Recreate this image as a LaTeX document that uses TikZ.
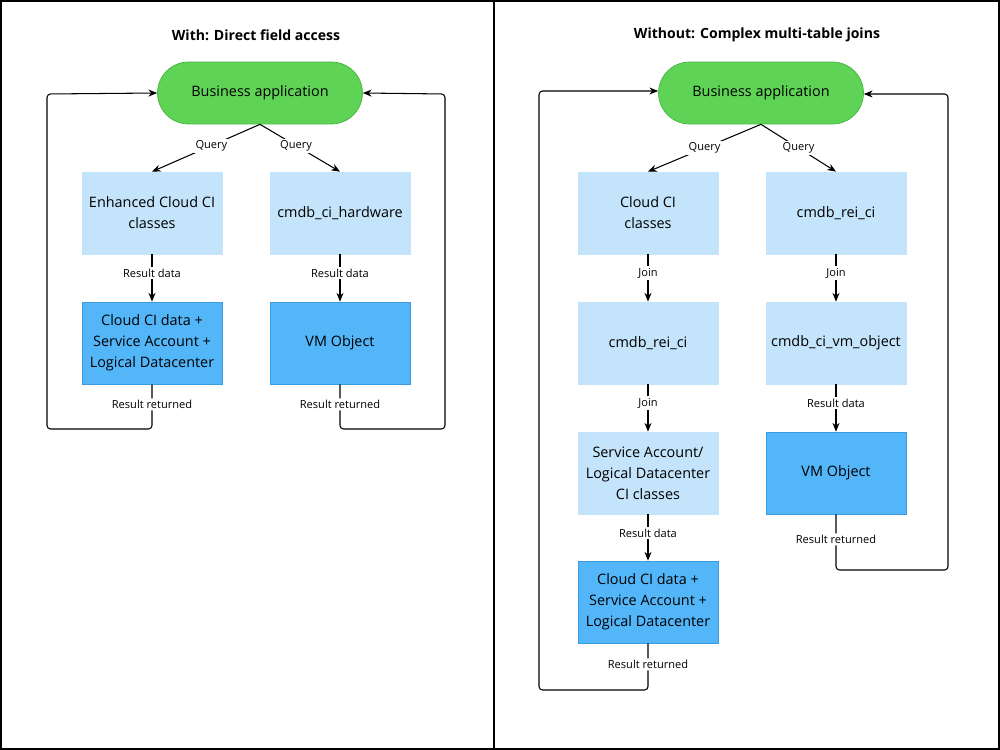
\documentclass[tikz,border=0pt]{standalone}
\usepackage{fontspec}
\setmainfont{Open Sans}
\usetikzlibrary{arrows.meta}
\begin{document}
\begin{tikzpicture}[x=0.02cm,y=-0.02cm,
  lb/.style={draw=none,fill=none,font=\fontsize{8}{10}\selectfont,align=center},
  light/.style={fill=lb1,draw=lb1,minimum width=2.8cm,minimum height=1.64cm,align=center,font=\fontsize{8.2}{12}\selectfont,inner sep=0},
  dark/.style={fill=db1,draw=db2,minimum width=2.8cm,minimum height=1.64cm,align=center,font=\fontsize{8.2}{12}\selectfont,inner sep=0},
  pill/.style={fill=gr1,draw=gr2,rounded corners=0.62cm,minimum width=4.1cm,minimum height=1.24cm,font=\fontsize{8.2}{10}\selectfont},
  sm/.style={fill=white,inner sep=1pt,font=\fontsize{6.3}{8}\selectfont},
  arr/.style={-{Stealth[length=5pt,width=4pt]},line width=0.6pt},
  ln/.style={line width=0.6pt},
  ttl/.style={font=\bfseries\fontsize{8}{10}\selectfont}]
\definecolor{lb1}{HTML}{C4E4FB}
\definecolor{db1}{HTML}{52B6F8}
\definecolor{db2}{HTML}{3A9BE0}
\definecolor{gr1}{HTML}{5FD356}
\definecolor{gr2}{HTML}{45B53E}
\useasboundingbox (0,0) rectangle (1000,750);
\draw[line width=0.9pt] (1,1) rectangle (494,749);
\draw[line width=0.9pt] (494,1) rectangle (999,749);
% left
\node[ttl] (t1) at (256,35) {With: Direct field access};
\node[pill] (b1) at (260,93) {Business application};
\node[light] (l1) at (152,213) {Enhanced Cloud CI\\classes};
\node[light] (l2) at (340,213) {cmdb\_ci\_hardware};
\node[dark] (l3) at (152,343) {Cloud CI data +\\Service Account +\\Logical Datacenter};
\node[dark] (l4) at (340,343) {VM Object};
\draw[arr] (b1.south) -- node[sm,pos=0.45]{Query} (l1.north);
\draw[arr] (b1.south) -- node[sm,pos=0.45]{Query} (l2.north);
\draw[arr] (l1.south) -- node[sm,pos=0.4]{Result data} (l3.north);
\draw[arr] (l2.south) -- node[sm,pos=0.4]{Result data} (l4.north);
\coordinate (c1) at (47,94); \coordinate (c2) at (445,94);
\draw[arr,rounded corners=2pt] (l3.south) -- node[sm,pos=0.45]{Result returned} (152,429) -- (47,429) -- (c1) -- (b1.west);
\draw[arr,rounded corners=2pt] (l4.south) -- node[sm,pos=0.45]{Result returned} (340,429) -- (445,429) -- (c2) -- (b1.east);
% right
\node[ttl] (t2) at (757,35) {Without: Complex multi-table joins};
\node[pill] (b2) at (761,93) {Business application};
\node[light] (r1) at (648,213) {Cloud CI\\classes};
\node[light] (r2) at (648,343) {cmdb\_rei\_ci};
\node[light] (r3) at (648,473) {Service Account/\\Logical Datacenter\\CI classes};
\node[dark] (r4) at (648,602) {Cloud CI data +\\Service Account +\\Logical Datacenter};
\node[light] (s1) at (836,213) {cmdb\_rei\_ci};
\node[light] (s2) at (836,343) {cmdb\_ci\_vm\_object};
\node[dark] (s3) at (836,473) {VM Object};
\draw[arr] (b2.south) -- node[sm,pos=0.5]{Query} (r1.north);
\draw[arr] (b2.south) -- node[sm,pos=0.5]{Query} (s1.north);
\draw[arr] (r1.south) -- node[sm,pos=0.4]{Join} (r2.north);
\draw[arr] (r2.south) -- node[sm,pos=0.4]{Join} (r3.north);
\draw[arr] (r3.south) -- node[sm,pos=0.4]{Result data} (r4.north);
\draw[arr] (s1.south) -- node[sm,pos=0.4]{Join} (s2.north);
\draw[arr] (s2.south) -- node[sm,pos=0.4]{Result data} (s3.north);
\coordinate (c3) at (539,91); \coordinate (c4) at (948,94);
\draw[arr,rounded corners=2pt] (r4.south) -- node[sm,pos=0.45]{Result returned} (648,690) -- (539,690) -- (c3) -- (b2.west|-c3);
\draw[arr,rounded corners=2pt] (s3.south) -- node[sm,pos=0.45]{Result returned} (836,570) -- (948,570) -- (c4) -- (b2.east|-c4);
\end{tikzpicture}
\end{document}
